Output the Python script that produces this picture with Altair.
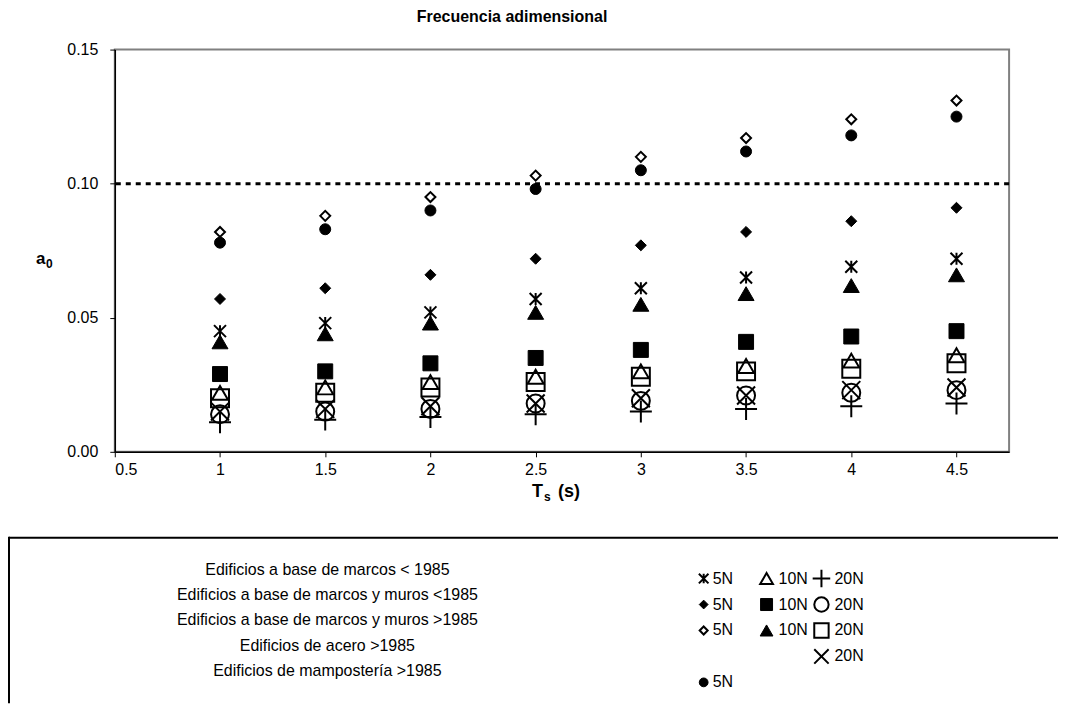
import altair as alt
import pandas as pd

# ---------------- data ----------------
T = [1, 1.5, 2, 2.5, 3, 3.5, 4, 4.5]

marcos_lt85_5N = [0.045, 0.048, 0.052, 0.057, 0.061, 0.065, 0.069, 0.072]
marcos_lt85_10N = [0.022, 0.024, 0.026, 0.028, 0.030, 0.032, 0.034, 0.036]
marcos_lt85_20N = [0.011, 0.012, 0.013, 0.014, 0.015, 0.016, 0.017, 0.018]
muros_lt85_5N = [0.057, 0.061, 0.066, 0.072, 0.077, 0.082, 0.086, 0.091]
muros_lt85_10N = [0.029, 0.030, 0.033, 0.035, 0.038, 0.041, 0.043, 0.045]
muros_lt85_20N = [0.014, 0.015, 0.016, 0.018, 0.019, 0.021, 0.022, 0.023]
muros_gt85_5N = [0.082, 0.088, 0.095, 0.103, 0.110, 0.117, 0.124, 0.131]
muros_gt85_10N = [0.041, 0.044, 0.048, 0.052, 0.055, 0.059, 0.062, 0.066]
muros_gt85_20N = [0.020, 0.022, 0.024, 0.026, 0.028, 0.030, 0.031, 0.033]
acero_gt85_20N = [0.015, 0.016, 0.017, 0.018, 0.020, 0.021, 0.023, 0.024]
mamposteria_gt85_5N = [0.078, 0.083, 0.090, 0.098, 0.105, 0.112, 0.118, 0.125]

threshold = [0.10]

buildings = [
    "Edificios a base de marcos < 1985",
    "Edificios a base de marcos y muros <1985",
    "Edificios a base de marcos y muros >1985",
    "Edificios de acero >1985",
    "Edificios de mampostería >1985",
]
n_labels = ["5N", "10N", "20N"]

x_ticks = [0.5, 1, 1.5, 2, 2.5, 3, 3.5, 4, 4.5]
y_ticks = [0.0, 0.05, 0.10, 0.15]

# (building index, N label, values, marker style)
series = [
    (0, "5N", marcos_lt85_5N, "asterisk"),
    (0, "10N", marcos_lt85_10N, "open_triangle"),
    (0, "20N", marcos_lt85_20N, "plus"),
    (1, "5N", muros_lt85_5N, "filled_diamond"),
    (1, "10N", muros_lt85_10N, "filled_square"),
    (1, "20N", muros_lt85_20N, "open_circle"),
    (2, "5N", muros_gt85_5N, "open_diamond"),
    (2, "10N", muros_gt85_10N, "filled_triangle"),
    (2, "20N", muros_gt85_20N, "open_square"),
    (3, "20N", acero_gt85_20N, "cross_x"),
    (4, "5N", mamposteria_gt85_5N, "filled_circle"),
]

# ---------------- styles ----------------
FONT = "Liberation Sans"
W, H = 896, 403
LABEL_SIZE = 16

STYLES = {
    # shape, fill, diameter(px), strokeWidth
    "asterisk": ("M-1,-1L1,1M-1,1L1,-1M0,-1L0,1", "transparent", 12, 2),
    "open_triangle": ("triangle-up", "transparent", 16, 2),
    "plus": ("M-1,0L1,0M0,-1L0,1", "transparent", 22, 2),
    "filled_diamond": ("diamond", "black", 11, 1),
    "filled_square": ("square", "black", 15, 1),
    "open_circle": ("circle", "transparent", 18, 2),
    "open_diamond": ("diamond", "white", 10, 2),
    "filled_triangle": ("triangle-up", "black", 16, 1),
    "open_square": ("square", "transparent", 18, 2),
    "cross_x": ("M-1,-1L1,1M-1,1L1,-1", "transparent", 18, 2),
    "filled_circle": ("circle", "black", 11, 1),
}

x_scale = alt.Scale(domain=[0.5, 4.75], nice=False, zero=False)
y_scale = alt.Scale(domain=[0, 0.15], nice=False)

axis_common = dict(title=None, tickSize=5, grid=False, labelFont=FONT,
                   labelFontSize=LABEL_SIZE, labelColor="black", domainColor="black",
                   domainWidth=1.5, tickColor="black", tickWidth=1)
x_axis = alt.Axis(values=x_ticks, format="~g", labelPadding=5, **axis_common)
y_axis = alt.Axis(values=y_ticks, format=".2f", labelPadding=12, **axis_common)

# ---------------- main plot ----------------
layers = []
for b, n, vals, key in series:
    shape, fill, d, sw = STYLES[key]
    df = pd.DataFrame({"T": T, "a0": vals})
    layers.append(
        alt.Chart(df)
        .mark_point(shape=shape, size=d * d, fill=fill, stroke="black",
                    strokeWidth=sw, opacity=1, fillOpacity=1, strokeOpacity=1)
        .encode(x=alt.X("T:Q", scale=x_scale, axis=x_axis),
                y=alt.Y("a0:Q", scale=y_scale, axis=y_axis))
    )

hline = (
    alt.Chart(pd.DataFrame({"y": threshold}))
    .mark_rule(color="black", strokeWidth=3, strokeDash=[5, 5])
    .encode(y=alt.Y("y:Q", scale=y_scale, axis=y_axis))
)

main = alt.layer(hline, *layers)

one = pd.DataFrame({"k": [0]})

# axis titles with subscripts
def txt(text, x, y, size, bold=True, align="left"):
    return alt.Chart(one).mark_text(
        text=text, font=FONT, fontSize=size, fontWeight="bold" if bold else "normal",
        align=align, baseline="alphabetic", color="black"
    ).encode(x=alt.value(x), y=alt.value(y))

ytitle_a = txt("a", -79, 215, 17)
ytitle_0 = txt("0", -69, 219, 12)
xtitle_T = txt("T", 418, 448, 18)
xtitle_s = txt("s", 430, 452, 12)
xtitle_rest = txt("(s)", 444, 448, 18)

# ---------------- legend box ----------------
box_top = alt.Chart(one).mark_rule(color="black", strokeWidth=2).encode(
    x=alt.value(-106), x2=alt.value(945), y=alt.value(489))
box_left = alt.Chart(one).mark_rule(color="black", strokeWidth=2).encode(
    x=alt.value(-106), y=alt.value(488), y2=alt.value(655))

bdf = pd.DataFrame({"building": buildings, "row": list(range(len(buildings)))})
legend_text = alt.Chart(bdf).mark_text(font=FONT, fontSize=LABEL_SIZE, align="center",
                                       baseline="middle", color="black").encode(
    x=alt.value(213),
    y=alt.Y("row:Q", scale=alt.Scale(domain=[0, 4], range=[521, 623]), axis=None),
    text="building:N")

COL_MARK = {"5N": 590, "10N": 653, "20N": 708}
COL_TEXT = {"5N": 599, "10N": 665, "20N": 721}
leg_row_scale = alt.Scale(domain=[0, 4], range=[530, 634])

legend_layers = []
for b, n, vals, key in series:
    shape, fill, d, sw = STYLES[key]
    ld = d * 0.8
    ldf = pd.DataFrame({"row": [b], "lab": [n]})
    legend_layers.append(
        alt.Chart(ldf).mark_point(shape=shape, size=ld * ld, fill=fill, stroke="black",
                                  strokeWidth=sw, opacity=1, fillOpacity=1)
        .encode(x=alt.value(COL_MARK[n]), y=alt.Y("row:Q", scale=leg_row_scale, axis=None))
    )
    legend_layers.append(
        alt.Chart(ldf).mark_text(font=FONT, fontSize=LABEL_SIZE, align="left",
                                 baseline="middle", color="black")
        .encode(x=alt.value(COL_TEXT[n]), y=alt.Y("row:Q", scale=leg_row_scale, axis=None),
                text="lab:N")
    )

chart = (
    alt.layer(main, ytitle_a, ytitle_0, xtitle_T, xtitle_s, xtitle_rest,
              box_top, box_left, legend_text, *legend_layers)
    .resolve_scale(y="independent")
    .properties(
        width=W, height=H, padding=0, background="white",
        title=alt.TitleParams("Frecuencia adimensional", font=FONT, fontSize=16,
                              fontWeight="bold", anchor="middle", dx=-50, offset=17,
                              color="black"),
    )
    .configure_view(stroke="#808080", strokeWidth=2)
)

chart.save("out.html", embed_options={"renderer": "svg", "actions": False})
